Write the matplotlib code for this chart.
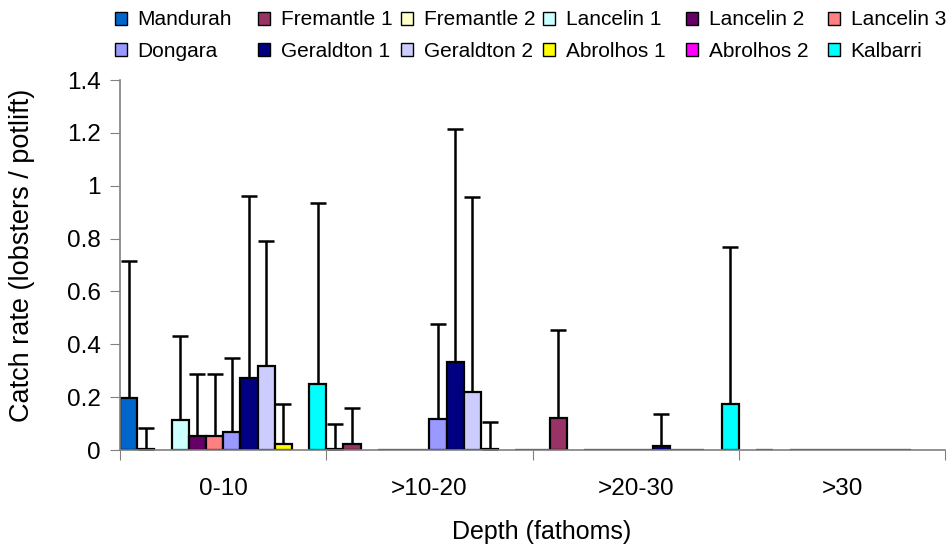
import numpy as np
import matplotlib
matplotlib.use("Agg")
import matplotlib.pyplot as plt
from matplotlib.ticker import FuncFormatter
from matplotlib.patches import Patch

plt.rcParams['font.family'] = ['Liberation Sans', 'DejaVu Sans']

depths = ['0-10', '>10-20', '>20-30', '>30']
sites = ['Mandurah', 'Fremantle 1', 'Fremantle 2', 'Lancelin 1', 'Lancelin 2', 'Lancelin 3',
         'Dongara', 'Geraldton 1', 'Geraldton 2', 'Abrolhos 1', 'Abrolhos 2', 'Kalbarri']
colors = ['#0066CC', '#993366', '#FFFFCC', '#CCFFFF', '#660066', '#FF8080',
          '#9999FF', '#000080', '#CCCCFF', '#FFFF00', '#FF00FF', '#00FFFF']

nan = np.nan
# mean catch rate per site, one list per depth band (nan = not fished)
mean_0_10 = [0.195, 0.005, nan, 0.115, 0.053, 0.053, 0.068, 0.273, 0.318, 0.023, nan, 0.25]
mean_10_20 = [0.003, 0.023, nan, 0, 0, 0, 0.117, 0.333, 0.22, 0.005, nan, 0]
mean_20_30 = [0, 0.122, nan, 0, 0, 0, 0, 0.015, 0, 0, nan, 0.174]
mean_30 = [nan, 0, nan, 0, 0, 0, 0, 0, 0, 0, nan, nan]

# upper error (standard deviation)
sd_0_10 = [0.52, 0.078, 0, 0.315, 0.234, 0.234, 0.28, 0.687, 0.472, 0.151, 0, 0.685]
sd_10_20 = [0.095, 0.136, 0, 0, 0, 0, 0.359, 0.882, 0.737, 0.1, 0, 0]
sd_20_30 = [0, 0.332, 0, 0, 0, 0, 0, 0.121, 0, 0, 0, 0.594]
sd_30 = [0, 0, 0, 0, 0, 0, 0, 0, 0, 0, 0, 0]

means = np.array([mean_0_10, mean_10_20, mean_20_30, mean_30])
sds = np.array([sd_0_10, sd_10_20, sd_20_30, sd_30])

fig = plt.figure(figsize=(9.47, 5.47), dpi=100)
ax = fig.add_axes([0.1267, 0.1773, 0.8713, 0.6764])

n = len(sites)
w = 1.0 / n
xg = np.arange(len(depths))
for i in range(n):
    x = xg - 0.5 + (i + 0.5) * w
    m = means[:, i]
    ok = ~np.isnan(m)
    ax.bar(x[ok], m[ok], width=w, color=colors[i], edgecolor='black', linewidth=1.6, zorder=2)
    e = sds[:, i]
    has = ok & (e > 0)
    if has.any():
        ax.errorbar(x[has], m[has], yerr=[np.zeros(has.sum()), e[has]], fmt='none',
                    ecolor='black', elinewidth=1.8, capsize=5.5, capthick=1.8, zorder=1)

ax.set_xlim(-0.5, 3.5)
ax.set_ylim(0, 1.4)
ax.set_yticks(np.arange(0, 1.41, 0.2))
ax.yaxis.set_major_formatter(FuncFormatter(lambda v, p: '%g' % round(v, 1)))
ax.set_xticks(np.arange(-0.5, 3.6, 1))
ax.set_xticklabels([])
ax.set_xticks(xg, minor=True)
ax.set_xticklabels(depths, minor=True)
ax.tick_params(axis='x', which='minor', length=0, pad=20, labelsize=17.5)
ax.tick_params(axis='x', which='major', length=7, direction='out', color='#808080')
ax.tick_params(axis='y', length=7, pad=7, direction='out', color='#808080', labelsize=17.5)
for s in ['top', 'right']:
    ax.spines[s].set_visible(False)
for s in ['left', 'bottom']:
    ax.spines[s].set_color('#808080')
    ax.spines[s].set_linewidth(1.2)

fig.text(542 / 947, 1 - 532 / 547, 'Depth (fathoms)', fontsize=18, ha='center', va='center')
fig.text(22 / 947, 1 - 255 / 547, 'Catch rate (lobsters / potlift)', fontsize=19.5,
         rotation=90, ha='center', va='center')

# legend: 6 equally spaced columns, 2 rows
col_x = [115, 258, 401, 543, 686, 828]
for c in range(6):
    items = [c, c + 6]
    handles = [Patch(facecolor=colors[k], edgecolor='black', linewidth=1.0) for k in items]
    fig.legend(handles, [sites[k] for k in items], loc='upper left',
               bbox_to_anchor=(col_x[c] / 947, 0.981), frameon=False, fontsize=15,
               handlelength=0.58, handleheight=0.58, handletextpad=0.5,
               labelspacing=0.6, borderpad=0, borderaxespad=0)

fig.savefig('out.png', dpi=100)
